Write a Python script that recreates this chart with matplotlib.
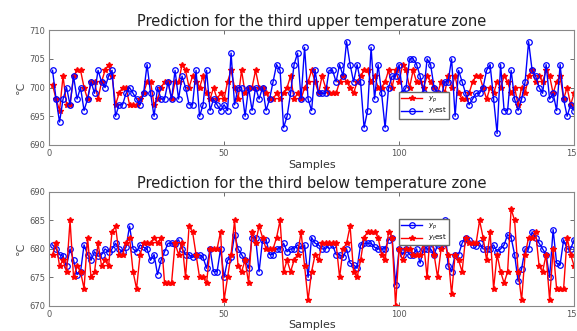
import numpy as np
import matplotlib.pyplot as plt

# -- datos (zona superior)
up_real = [700.5, 698, 696, 702, 697, 697, 702, 703, 703, 700, 698, 701, 701, 698, 701,
           703, 704, 702, 697, 699, 700, 700, 697, 697, 697, 698, 699, 701, 701, 697,
           698, 700, 701, 701, 698, 701, 701, 704, 703, 700, 702, 701,
           700, 702, 699, 698, 700, 698, 699, 698, 701, 703, 700, 698, 703, 699, 700,
           700, 703, 700, 700, 699, 698, 698, 699, 698, 699, 700, 702, 698, 699, 698,
           700, 701, 703, 701, 699, 702, 700, 699, 699, 699, 701, 702, 701, 700, 699,
           701, 702, 703, 703, 701, 702, 700,
           700, 701, 703, 700, 703, 701, 704, 703, 700, 703, 701, 701, 700, 702, 701,
           700, 699, 701, 699, 702, 700, 702, 699, 698, 698, 699, 701, 702, 702, 700,
           698, 700, 699, 701, 700, 702, 701, 699, 700, 697, 700, 699, 702, 703, 701,
           702, 701, 703, 702, 699, 701, 702, 698, 700, 697, 699]
up_est = [703, 698, 694, 698, 700, 697, 702, 698, 700, 696, 698, 701, 699, 703, 701,
          700, 702, 703, 695, 697, 697, 699, 700, 699, 698, 697, 699, 704, 699, 695,
          700, 698, 698, 701, 698, 703, 698, 702, 700, 697, 697, 703,
          695, 697, 703, 696, 698, 697, 696, 697, 696, 706, 697, 700, 700, 695, 700,
          696, 700, 698, 700, 696, 698, 701, 704, 703, 693, 695, 699, 704, 706, 698,
          707, 698, 696, 703, 699, 699, 699, 703, 703, 701, 704, 702, 708, 704, 701,
          704, 701, 693, 696, 707, 698, 704,
          699, 693, 700, 702, 702, 704, 699, 700, 705, 705, 704, 702, 699, 705, 704,
          700, 699, 698, 701, 701, 705, 695, 703, 701, 699, 697, 698, 699, 699, 700,
          703, 704, 698, 692, 704, 696, 696, 703, 698, 696, 698, 701, 708, 703, 702,
          700, 699, 704, 698, 699, 696, 704, 698, 695, 697, 696]

# -- zona inferior
low_real = [680.7, 680, 679, 678.7, 677, 680, 678, 675.5, 676, 680.7, 679, 678, 679.5, 678.7, 679,
            680, 679.5, 680, 681, 680, 679.5, 680.3, 684, 680, 679.5, 680.7, 680.3, 680, 678, 679,
            675.5, 678, 679.5, 681, 681, 680.8, 681.6, 680, 679, 679, 678.5, 679,
            679, 678.5, 676.6, 680, 676, 676, 680, 675, 678, 678.5, 682.5, 680, 679, 678, 676.6,
            682, 682, 676, 681.6, 681.6, 679, 679, 680, 680, 681, 679.5, 680, 680, 680.7, 680,
            680.7, 675, 682, 681, 680.7, 680, 680, 680.7, 680.7, 679, 679, 678.5, 680, 677.5, 677.2,
            676.6, 680.7, 681, 681, 681, 680.3, 680,
            680, 680, 681.6, 682, 673.7, 680, 679, 680, 679, 679, 680, 677.5, 680, 680, 680,
            679, 680.7, 680.7, 685, 677, 676, 679, 679, 681, 682, 681.6, 680.7, 680.5, 681, 680,
            680, 680, 680.7, 679.5, 680, 680.7, 682.5, 682, 679, 674.3, 676.5, 680, 680, 683, 682,
            681, 680, 679, 675, 683.4, 677.5, 677.2, 681.6, 680, 680, 681.6]
low_est = [679, 681, 677, 678, 676, 685, 675, 677, 676, 673, 682, 675, 676, 681, 677,
           678, 677, 683, 684, 679, 679, 681, 682, 676, 673, 679, 681, 681, 681, 682,
           681, 682, 674, 674, 674, 681, 679, 681, 675, 684, 683, 679,
           675, 675, 674, 680, 680, 680, 683, 671, 675, 679, 685, 677, 676, 678, 674,
           683, 681, 684, 682, 680, 680, 680, 682, 685, 676, 678, 676, 678, 679, 683,
           677, 671, 676, 679, 678, 681, 681, 681, 681, 681, 675, 680, 681, 684, 676,
           675, 678, 682, 683, 683, 683, 682,
           679, 678, 683, 682, 670, 680, 678, 680, 680, 679, 679, 679, 681, 675, 684,
           679, 675, 680, 681, 679, 672, 679, 678, 676, 682, 681, 681, 681, 685, 682,
           678, 683, 673, 679, 676, 674, 676, 687, 685, 676, 671, 679, 682, 682, 683,
           677, 676, 679, 671, 680, 673, 673, 673, 682, 679, 677]

plt.rcParams['mathtext.fontset'] = 'dejavusans'
gris = '#555555'

fig = plt.figure(figsize=(5.77, 3.31), dpi=100)
ax1 = fig.add_axes([0.085, 0.562, 0.910, 0.347])
ax2 = fig.add_axes([0.085, 0.076, 0.910, 0.344])


def formato(ax, ylim, titulo):
    ax.set_xlim(0, 150)
    ax.set_ylim(*ylim)
    ax.set_xticks([0, 50, 100, 150])
    ax.set_yticks(np.arange(ylim[0], ylim[1] + 1, 5))
    ax.tick_params(direction='in', top=True, right=True, labelsize=6, colors=gris,
                   length=3, width=0.6, pad=3)
    for s in ax.spines.values():
        s.set_color('#888888')
        s.set_linewidth(0.8)
    ax.set_title(titulo, fontsize=10.5, color='#222222', pad=3)
    ax.set_xlabel('Samples', fontsize=8, color='#333333', labelpad=1)
    ax.set_ylabel('℃', fontsize=8, color=gris, labelpad=2)


x1 = np.arange(1, len(up_real) + 1)
ax1.plot(x1, up_real, 'r-*', lw=1.0, ms=4, label='$y_p$')
ax1.plot(x1, up_est, 'b-o', lw=1.0, ms=4, mfc='none', mew=0.9, label='$y_t$est')
formato(ax1, (690, 710), 'Prediction for the third upper temperature zone')
ax1.legend(loc='lower left', bbox_to_anchor=(0.66, 0.2), fontsize=5, handlelength=3,
           borderpad=0.3, labelspacing=0.2, fancybox=False, edgecolor='#666666', framealpha=1)

x2 = np.arange(1, len(low_real) + 1)
ax2.plot(x2, low_real, 'b-o', lw=1.0, ms=4, mfc='none', mew=0.9, label='$y_p$')
ax2.plot(x2, low_est, 'r-*', lw=1.0, ms=4, label='$y_t$est')
formato(ax2, (670, 690), 'Prediction for the third below temperature zone')
ax2.legend(loc='lower left', bbox_to_anchor=(0.66, 0.5), fontsize=5, handlelength=3,
           borderpad=0.3, labelspacing=0.2, fancybox=False, edgecolor='#666666', framealpha=1)

plt.savefig('out.png', dpi=100)
plt.close()
